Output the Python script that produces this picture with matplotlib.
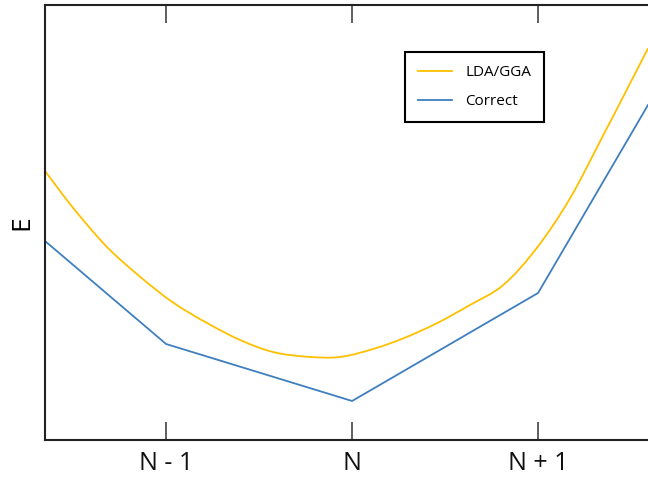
import matplotlib.pyplot as plt
import numpy as np
from matplotlib.path import Path
from matplotlib.patches import PathPatch
from matplotlib.lines import Line2D

# x in units of electron number relative to N, E in arbitrary units
lda_x = [-1.651, -1.498, -1.319, -1.140, -0.961, -0.780, -0.602, -0.425,
         -0.244, -0.065, 0.113, 0.276, 0.455, 0.634, 0.813, 0.993, 1.172,
         1.351, 1.468, 1.591]
lda_e = [2.69, 2.317, 1.933, 1.633, 1.373, 1.17, 1.00, 0.88,
         0.833, 0.83, 0.91, 1.017, 1.167, 1.35, 1.55, 1.92, 2.417,
         3.05, 3.47, 3.917]

correct_x = [-1.651, -1.0, 0.0, 1.0, 1.591]
correct_e = [1.99, 0.96, 0.39, 1.47, 3.35]

tick_pos = [-1, 0, 1]
tick_labels = ["N - 1", "N", "N + 1"]

lda_color = "#FFC000"
correct_color = "#3F7FBF"


def smooth_path(xs, ys):
    # smoothed line through the points (cubic bezier segments, like a
    # spreadsheet "smoothed line")
    pts = np.column_stack([xs, ys])
    n = len(pts)
    verts = [pts[0]]
    codes = [Path.MOVETO]
    for i in range(n - 1):
        p0 = pts[max(i - 1, 0)]
        p1 = pts[i]
        p2 = pts[i + 1]
        p3 = pts[min(i + 2, n - 1)]
        verts += [p1 + (p2 - p0) / 6, p2 - (p3 - p1) / 6, p2]
        codes += [Path.CURVE4] * 3
    return Path(verts, codes)


plt.rcParams["font.family"] = ["Open Sans", "DejaVu Sans"]

fig = plt.figure(figsize=(6.48, 4.78), dpi=100)
ax = fig.add_axes([45 / 648, 38 / 478, 603 / 648, 435 / 478])

ax.add_patch(PathPatch(smooth_path(lda_x, lda_e), fill=False,
                       edgecolor=lda_color, lw=1.3))
ax.plot(correct_x, correct_e, color=correct_color, lw=1.3)

ax.set_xlim(-1.651, 1.591)
ax.set_ylim(0, 4.35)
ax.set_xticks(tick_pos)
ax.set_xticklabels(tick_labels, fontsize=18, color="#111111")
ax.set_yticks([])
ax.tick_params(axis="x", direction="in", length=13, width=1.1, color="#333333",
               top=True, pad=8)
ax.set_ylabel("E", fontsize=19, labelpad=8)

for side in ["left", "bottom", "top"]:
    ax.spines[side].set_linewidth(1.5)
    ax.spines[side].set_color("#222222")
ax.spines["right"].set_visible(False)

handles = [Line2D([], [], color=lda_color, lw=1.3),
           Line2D([], [], color=correct_color, lw=1.3)]
leg = ax.legend(handles, ["LDA/GGA", "Correct"], loc="upper left",
                bbox_to_anchor=(0.597, 0.892), fontsize=11,
                fancybox=False, edgecolor="black", framealpha=1,
                handlelength=2.2, borderpad=0.85, labelspacing=0.94,
                handletextpad=0.9, borderaxespad=0)
leg.get_frame().set_linewidth(1.5)

plt.savefig("out.png", dpi=100)
